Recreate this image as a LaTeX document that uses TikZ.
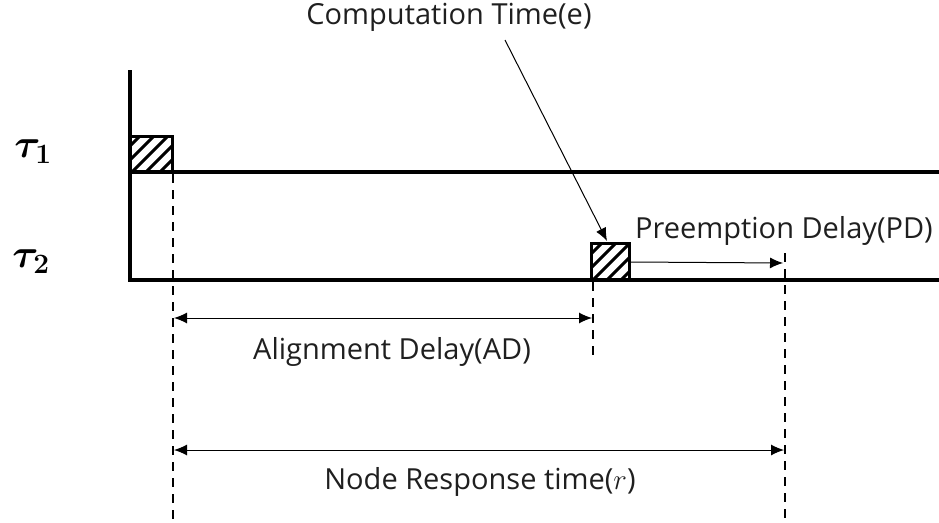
\documentclass[tikz,border=0pt]{standalone}
\usepackage{fix-cm}
\usepackage{bm}
\usepackage{fontspec}
\setmainfont{Open Sans}
\usetikzlibrary{arrows.meta}
\begin{document}
\begin{tikzpicture}[x=1pt,y=-1pt,
  axis/.style={line width=3.5pt},
  boxst/.style={line width=3pt},
  guide/.style={line width=2.5pt, dash pattern=on 9pt off 7pt},
  dim/.style={line width=1pt, {Latex[length=13pt,width=11pt]}-{Latex[length=13pt,width=11pt]}},
  onearrow/.style={line width=1pt, -{Latex[length=13pt,width=11pt]}},
  lbl/.style={font=\fontsize{29}{34}\selectfont, text=black!88, inner sep=0pt},
  tau/.style={font=\fontsize{40}{46}\selectfont, inner sep=0pt}]
\useasboundingbox (0,0) rectangle (939,522);
% axes
\coordinate (o) at (130,280);
\coordinate (top) at (130,70);
\coordinate (t1r) at (939,172);
\coordinate (t1l) at (130,172);
\coordinate (t2r) at (939,280);
\draw[axis] (top) -- (o) -- (t2r);
\draw[axis] (t1l) -- (t1r);
% labels
\node[tau] (tau1) at (33,152) {$\bm{\tau}_{\bm{1}}$};
\node[tau] (tau2) at (31,262) {$\bm{\tau}_{\bm{2}}$};
% task boxes
\begin{scope}
\clip (130,136) rectangle (172,172);
\foreach \k in {-40,-26,...,60} \draw[line width=3pt] (130+\k,172) -- (166+\k,136);
\end{scope}
\draw[boxst] (130,136) rectangle (172,172);
\begin{scope}
\clip (591,243) rectangle (629,280);
\foreach \k in {-40,-26,...,60} \draw[line width=3pt] (591+\k,280) -- (628+\k,243);
\end{scope}
\draw[boxst] (591,243) rectangle (629,280);
% dashed guides
\coordinate (g1t) at (173,174);
\coordinate (g1b) at (173,522);
\coordinate (g2t) at (593,282);
\coordinate (g2b) at (593,356);
\coordinate (g3t) at (785,253);
\coordinate (g3b) at (785,522);
\draw[guide] (g1t) -- (g1b);
\draw[guide] (g2t) -- (g2b);
\draw[guide] (g3t) -- (g3b);
% dimension arrows
\coordinate (ad1) at (174,318);
\coordinate (ad2) at (592,318);
\draw[dim] (ad1) -- (ad2);
\node[lbl] (adl) at (392,352) {Alignment Delay(AD)};
\coordinate (nr1) at (174,450);
\coordinate (nr2) at (784,450);
\draw[dim] (nr1) -- (nr2);
\node[lbl] (nrl) at (480,482) {Node Response time($r$)};
\coordinate (pd1) at (631,262);
\coordinate (pd2) at (783,263);
\draw[onearrow] (pd1) -- (pd2);
\node[lbl] (pdl) at (784,231) {Preemption Delay(PD)};
% computation time
\node[lbl] (ctl) at (449,17) {Computation Time(e)};
\coordinate (ct1) at (505,40);
\coordinate (ct2) at (607,241);
\draw[onearrow] (ct1) -- (ct2);
\end{tikzpicture}
\end{document}
